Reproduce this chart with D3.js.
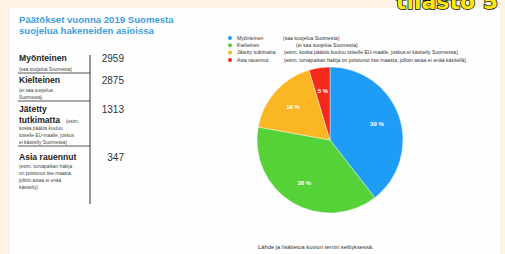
<!DOCTYPE html>
<html>
<head>
<meta charset="utf-8">
<script src="https://cdn.jsdelivr.net/npm/d3@7"></script>
<style>
	html, body { margin: 0; padding: 0; background: #fcf3e4; overflow: hidden; }
	svg { display: block; font-family: "Liberation Sans", Arial, sans-serif; }
</style>
</head>
<body>
<div id="chart"></div>
<script>
// Data
var categories = ["Myönteinen", "Kielteinen", "Jätetty tutkimatta", "Asia rauennut"];
var values = [2959, 2875, 1313, 347];
var colors = ["#1f9cf5", "#55d238", "#fbb624", "#f5281c"];
var legendNotes = [
	"(saa suojelua Suomesta)",
	"(ei saa suojelua Suomesta)",
	"(esim. koska päätös kuuluu toiselle EU-maalle, joskus ei käsitelty Suomessa)",
	"(esim. turvapaikan hakija on poistunut itse maasta, jolloin asiaa ei enää käsitellä)"
];
var titleLines = ["Päätökset vuonna 2019 Suomesta", "suojelua hakeneiden asioissa"];
var sourceText = "Lähde ja lisätietoa kuvion ternin selityksessä.";

var width = 505, height = 254;

var svg = d3.select("#chart").append("svg")
	.attr("width", width)
	.attr("height", height);

// slide background
svg.append("rect")
	.attr("x", 10).attr("y", 8)
	.attr("width", 490).attr("height", height - 8)
	.attr("fill", "#fefefe");

// "tilasto 5" banner, cut off at the top (as in the photo)
svg.append("text")
	.attr("x", 498).attr("y", 9)
	.attr("text-anchor", "end")
	.attr("font-family", "DejaVu Sans, sans-serif")
	.attr("font-weight", "bold")
	.attr("font-size", 22)
	.attr("fill", "#ffe80a")
	.attr("stroke", "#111")
	.attr("stroke-width", 1.6)
	.attr("paint-order", "stroke")
	.text("tilasto 5");

// title
svg.append("g").selectAll("text")
	.data(titleLines)
	.join("text")
	.attr("x", 19)
	.attr("y", function(d, i){ return 23 + i * 11 })
	.attr("font-size", 9.6)
	.attr("font-weight", "bold")
	.attr("fill", "#3c9fe0")
	.text(function(d){ return d });

// ---- table on the left ----
var table = svg.append("g").attr("fill", "#222");

// row layout: label lines (bold), note lines (small)
var rows = [
	{ bold: [[categories[0], 61]], notes: [["(saa suojelua Suomesta)", 71]], line: 73, num: 62 },
	{ bold: [[categories[1], 83]], notes: [["(ei saa suojelua", 92], ["Suomesta)", 99]], line: 101, num: 84 },
	{ bold: [["Jätetty", 112], ["tutkimatta", 123]], notes: [["koska päätös kuuluu", 130], ["toiselle EU-maalle, joskus", 137], ["ei käsitelty Suomessa)", 144]], line: 146, num: 113, extra: ["(esim.", 123] },
	{ bold: [[categories[3], 160]], notes: [["(esim. turvapaikan hakija", 168], ["on poistunut itse maasta,", 175], ["jolloin asiaa ei enää", 182], ["käsitelty)", 189]], line: null, num: 161 }
];

rows.forEach(function(r, i){
	r.bold.forEach(function(b){
		table.append("text")
			.attr("x", 19).attr("y", b[1])
			.attr("font-size", 8.6)
			.attr("font-weight", "bold")
			.text(b[0]);
	});
	r.notes.forEach(function(n){
		table.append("text")
			.attr("x", 19).attr("y", n[1])
			.attr("font-size", 4.8)
			.attr("fill", "#444")
			.text(n[0]);
	});
	if(r.extra){
		table.append("text")
			.attr("x", 66).attr("y", r.extra[1])
			.attr("font-size", 4.8)
			.attr("fill", "#444")
			.text(r.extra[0]);
	}
	if(r.line){
		table.append("line")
			.attr("x1", 18).attr("x2", 90)
			.attr("y1", r.line).attr("y2", r.line)
			.attr("stroke", "#444").attr("stroke-width", 0.9);
	}
	table.append("text")
		.attr("x", 124).attr("y", r.num)
		.attr("text-anchor", "end")
		.attr("font-size", 10)
		.attr("fill", "#333")
		.text(values[i]);
});

table.append("line")
	.attr("x1", 90).attr("x2", 90)
	.attr("y1", 55).attr("y2", 204)
	.attr("stroke", "#333").attr("stroke-width", 1);

// ---- legend ----
var legend = svg.append("g")
	.attr("font-size", 5.1)
	.attr("fill", "#333");

var legendX = 230, legendY = 38, legendStep = 7.3;
var noteX = [283, 296, 284, 284];

categories.forEach(function(c, i){
	var y = legendY + i * legendStep;
	legend.append("circle")
		.attr("cx", legendX).attr("cy", y)
		.attr("r", 2)
		.attr("fill", colors[i]);
	legend.append("text")
		.attr("x", legendX + 7).attr("y", y + 1.8)
		.text(c);
	legend.append("text")
		.attr("x", noteX[i]).attr("y", y + 1.8)
		.text(legendNotes[i]);
});

// ---- pie ----
var cx = 330, cy = 140, radius = 73;
var total = d3.sum(values);

var pie = d3.pie().sort(null).value(function(d){ return d });
var arc = d3.arc().innerRadius(0).outerRadius(radius);
var labelArc = d3.arc().innerRadius(radius * 0.68).outerRadius(radius * 0.68);

var pg = svg.append("g").attr("transform", "translate(" + cx + "," + cy + ")");
var slices = pie(values);

pg.selectAll("path")
	.data(slices)
	.join("path")
	.attr("d", arc)
	.attr("fill", function(d, i){ return colors[i] })
	.attr("stroke", "#fff")
	.attr("stroke-width", 0.4);

pg.selectAll("text")
	.data(slices)
	.join("text")
	.attr("transform", function(d){ return "translate(" + labelArc.centroid(d) + ")" })
	.attr("text-anchor", "middle")
	.attr("dy", "0.35em")
	.attr("font-size", 6)
	.attr("font-weight", "bold")
	.attr("fill", "#fff")
	.text(function(d){ return Math.round(d.value / total * 100) + " %" });

// source
svg.append("text")
	.attr("x", 258).attr("y", 249)
	.attr("font-size", 5.8)
	.attr("fill", "#333")
	.text(sourceText);
</script>
</body>
</html>
